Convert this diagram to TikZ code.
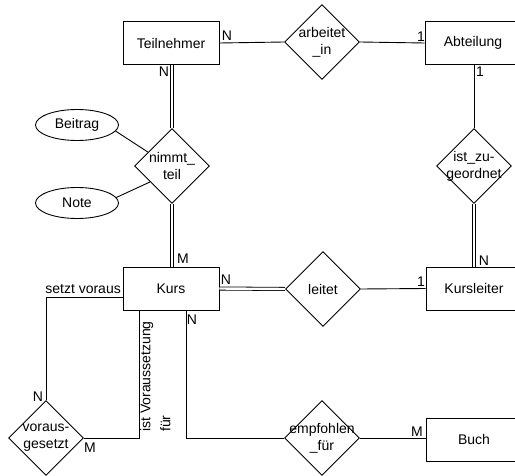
\documentclass[tikz,border=0pt]{standalone}
\usepackage{fontspec}
\setmainfont{Liberation Sans}
\usetikzlibrary{shapes.geometric}
\begin{document}
\begin{tikzpicture}[x=1pt,y=-1pt,
  every node/.style={font=\fontsize{14}{17}\selectfont},
  entity/.style={draw, line width=0.9pt, minimum width=96pt, minimum height=43pt, inner sep=0pt},
  relation/.style={draw, diamond, aspect=1, line width=0.9pt, minimum width=75pt, minimum height=75pt, inner sep=0pt},
  attr/.style={draw, ellipse, line width=0.9pt, minimum width=83pt, minimum height=31pt, inner sep=0pt},
  rtext/.style={align=center, inner sep=0pt},
  card/.style={inner sep=0pt},
  link/.style={line width=0.9pt},
  total/.style={double, double distance=2.4pt, line width=0.8pt}
]
\fill[white] (0,0) rectangle (515,476);
\useasboundingbox (0,0) rectangle (515,476);
\clip (0,0) rectangle (515,476);

% entities
\node[entity] (teil) at (171,43) {Teilnehmer};
\node[entity] (abt) at (473,43) {Abteilung};
\node[entity] (kurs) at (171,288.5) {Kurs};
\node[entity] (kl) at (474,288.5) {Kursleiter};
\node[entity] (buch) at (474,439.5) {Buch};

% relationships
\node[relation] (arb) at (322,42) {};
\node[rtext] (arbt) at (arb) {arbeitet\\\_in};
\node[relation] (nimmt) at (172,166) {};
\node[rtext] (nimmtt) at (nimmt) {nimmt\_\\teil};
\node[relation] (zu) at (474,166) {};
\node[rtext] (zut) at (zu) {ist\_zu-\\geordnet};
\node[relation] (leitet) at (323,289) {};
\node[rtext] (leitett) at (leitet) {leitet};
\node[relation] (vor) at (46,438) {};
\node[rtext] (vort) at (vor) {voraus-\\gesetzt};
\node[relation] (empf) at (322,438) {};
\node[rtext] (empft) at (empf) {empfohlen\\\_für};

% attributes
\node[attr] (beitrag) at (77,125) {Beitrag};
\node[attr] (note) at (77,203) {Note};

% connectors
\draw[link] (teil.east) -- (arb.west);
\draw[link] (arb.east) -- (abt.west);
\draw[total] (nimmt.north |- teil.south) -- (nimmt.north);
\draw[total] (nimmt.south) -- (nimmt.south |- kurs.north);
\draw[link] (zu.north |- abt.south) -- (zu.north);
\draw[total] (zu.south) -- (kl.north);
\draw[total] (kurs.east) -- (leitet.west);
\draw[link] (leitet.east) -- (kl.west);
\draw[link] (beitrag.-9) -- (nimmt.150);
\draw[link] (note.8) -- (nimmt.216);
\draw[link] ([yshift=-8.5pt]kurs.west) -| (vor.north);
\draw[link] (vor.east) -| ([xshift=-32pt]kurs.south);
\draw[link] ([xshift=15pt]kurs.south) |- (empf.west);
\draw[link] (empf.east) -- (empf.east -| buch.west);

% cardinalities and role names
\node[card] (c1) at (227,36) {N};
\node[card] (c2) at (421,37) {1};
\node[card] (c3) at (164,72) {N};
\node[card] (c4) at (480,72) {1};
\node[card] (c5) at (183,259) {M};
\node[card] (c6) at (226,280) {N};
\node[card] (c7) at (192,320) {N};
\node[card] (c8) at (421,282) {1};
\node[card] (c9) at (484,261) {N};
\node[card] (c10) at (38,397) {N};
\node[card] (c11) at (90,448) {M};
\node[card] (c12) at (417,432) {M};
\node[card, anchor=base east] (r1) at (121,294) {setzt voraus};
\node[card, align=left, rotate=90, anchor=north west, font=\fontsize{14}{20}\selectfont] (r2) at (140,432) {ist Voraussetzung\\für};
\end{tikzpicture}
\end{document}
